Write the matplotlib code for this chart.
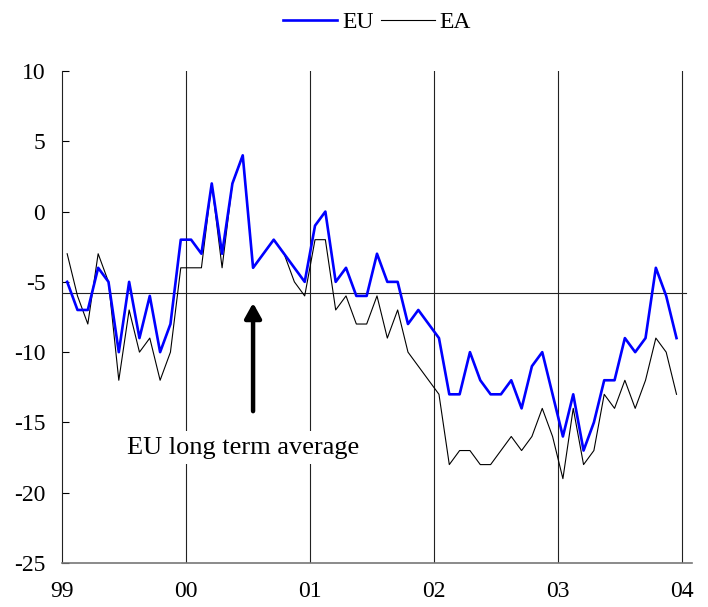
import numpy as np
import matplotlib
matplotlib.use("Agg")
import matplotlib.pyplot as plt

plt.rcParams['font.family'] = ['Liberation Serif', 'DejaVu Serif']
plt.rcParams['axes.unicode_minus'] = False

# monthly balances, Jan 1999 - Dec 2003
eu = [-5, -7, -7, -4, -5, -10, -5, -9, -6, -10, -8, -2,
      -2, -3, 2, -3, 2, 4, -4, -3, -2, -3, -4, -5,
      -1, 0, -5, -4, -6, -6, -3, -5, -5, -8, -7, -8,
      -9, -13, -13, -10, -12, -13, -13, -12, -14, -11, -10, -13,
      -16, -13, -17, -15, -12, -12, -9, -10, -9, -4, -6, -9]
ea = [-3, -6, -8, -3, -5, -12, -7, -10, -9, -12, -10, -4,
      -4, -4, 2, -4, 2, 4, -4, -3, -2, -3, -5, -6,
      -2, -2, -7, -6, -8, -8, -6, -9, -7, -10, -11, -12,
      -13, -18, -17, -17, -18, -18, -17, -16, -17, -16, -14, -16,
      -19, -14, -18, -17, -13, -14, -12, -14, -12, -9, -10, -13]
year_labels = ['99', '00', '01', '02', '03', '04']
eu_average = -5.8

x = np.arange(len(eu)) + 0.5
year_pos = np.arange(len(year_labels)) * 12

fig = plt.figure(figsize=(7.08, 6.07), dpi=100)
ax = fig.add_axes([62 / 708, 44 / 607, 630 / 708, 492 / 607])

# year separators
for p in year_pos[1:]:
    ax.axvline(p, color='#222222', lw=0.8, zorder=1)

ax.plot([0, 60.4], [eu_average, eu_average], color='#222222', lw=0.8, zorder=1)

ax.plot(x, ea, color='black', lw=0.8, label='EA', zorder=3)
ax.plot(x, eu, color='#0000ff', lw=1.9, label='EU', zorder=4)

ax.annotate('', xy=(18.5, -6.5), xytext=(18.5, -14.2),
            arrowprops=dict(arrowstyle='-|>,head_width=0.5,head_length=0.9',
                            color='black', lw=3.2, shrinkA=0, shrinkB=0),
            zorder=5)
ax.text(6.3, -16.8, 'EU long term average', fontsize=19, va='center', ha='left',
        bbox=dict(facecolor='white', edgecolor='none', pad=4), zorder=5)

ax.set_xlim(0, 61)
ax.set_ylim(-25, 10)
ax.set_yticks(np.arange(-25, 11, 5))
ax.set_xticks(year_pos)
ax.set_xticklabels(year_labels)
ax.tick_params(axis='y', direction='in', length=5, width=0.8, pad=12, labelsize=17)
ax.tick_params(axis='x', length=0, pad=13, labelsize=17)

ax.spines['top'].set_visible(False)
ax.spines['right'].set_visible(False)
ax.spines['left'].set_color('#222222')
ax.spines['bottom'].set_color('#777777')
ax.spines['bottom'].set_linewidth(1.2)

h, l = ax.get_legend_handles_labels()
fig.legend([h[1], h[0]], [l[1], l[0]], loc='center', bbox_to_anchor=(377 / 708, 1 - 22 / 607),
           ncol=2, frameon=False, fontsize=17, handlelength=2.3, handletextpad=0.2,
           columnspacing=0.3)

fig.savefig('out.png', dpi=100)
